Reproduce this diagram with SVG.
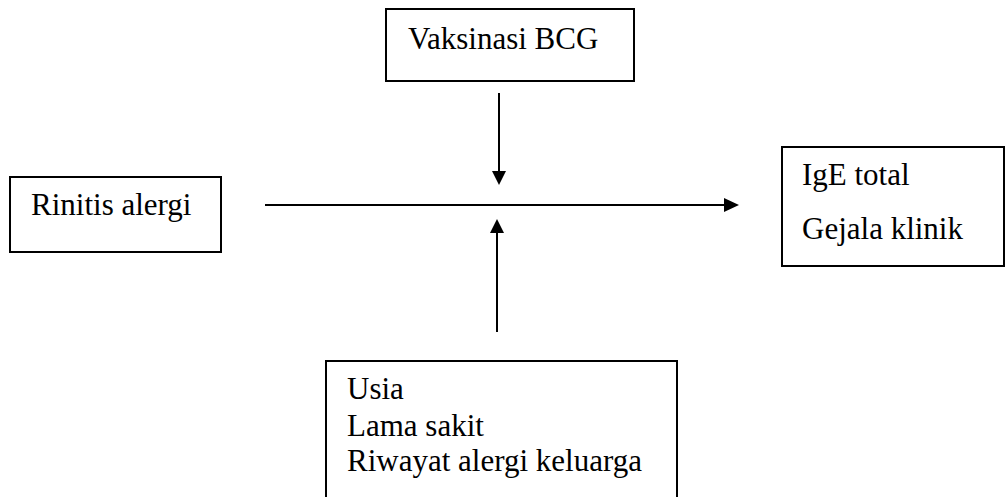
<svg xmlns="http://www.w3.org/2000/svg" width="1008" height="497" viewBox="0 0 1008 497">
<style>
.box{fill:#fff;stroke:#000;stroke-width:2}
.t{font-family:"Liberation Serif","Times New Roman",serif;font-size:31px;fill:#000}
.c{stroke:#000;stroke-width:2;fill:none}
</style>
<rect width="1008" height="497" fill="#fff"/>
<g id="vaksinasi">
<rect class="box" x="386" y="9" width="248" height="72"/>
<text class="t" x="408" y="49">Vaksinasi BCG</text>
</g>
<g id="rinitis">
<rect class="box" x="10" y="177" width="211" height="75"/>
<text class="t" x="31" y="215">Rinitis alergi</text>
</g>
<g id="outcome">
<rect class="box" x="782" y="147" width="222" height="119"/>
<text class="t" x="802" y="185">IgE total</text>
<text class="t" x="802" y="239">Gejala klinik</text>
</g>
<g id="confounders">
<rect class="box" x="326" y="361" width="351" height="145"/>
<text class="t" x="347" y="399">Usia</text>
<text class="t" x="347" y="436">Lama sakit</text>
<text class="t" x="347" y="471">Riwayat alergi keluarga</text>
</g>
<g id="connectors">
<line class="c" x1="265" y1="205" x2="724" y2="205"/>
<path d="M724,198 L739,205 L724,212 z" fill="#000"/>
<line class="c" x1="499" y1="93" x2="499" y2="172"/>
<path d="M492,171 L499,185 L506,171 z" fill="#000"/>
<line class="c" x1="497" y1="332" x2="497" y2="232"/>
<path d="M490,233 L497,219 L504,233 z" fill="#000"/>
</g>
</svg>
